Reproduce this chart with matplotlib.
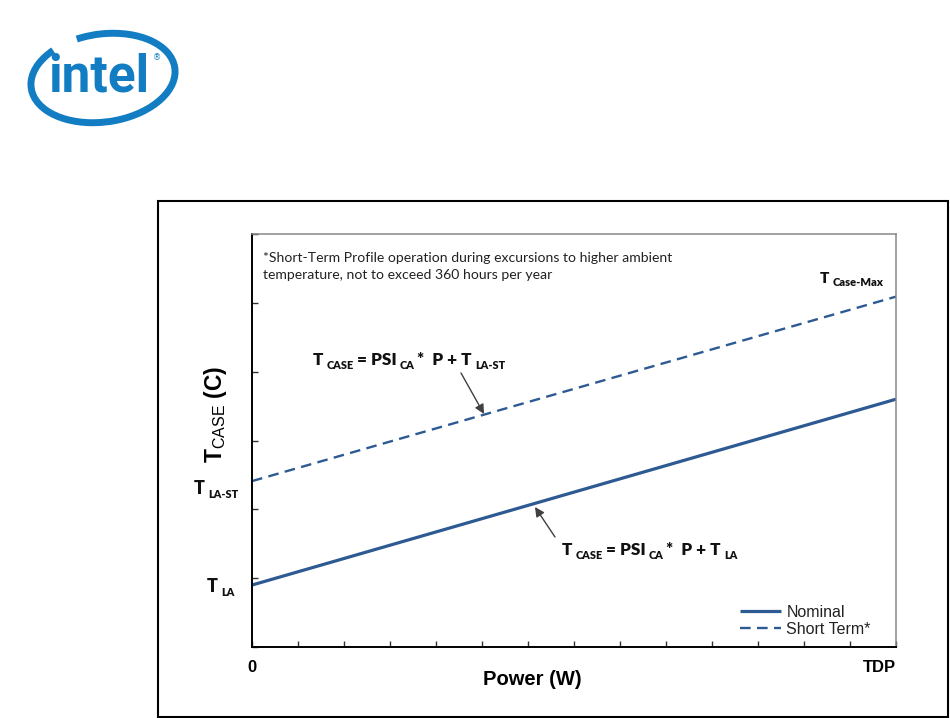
import matplotlib
matplotlib.use("Agg")
import matplotlib.pyplot as plt
from matplotlib.patches import Rectangle, Arc
from matplotlib.transforms import IdentityTransform

# ---------------- data ----------------
power_ticks = list(range(15))
x_tick_labels = ["0"] + [""] * 13 + ["TDP"]
temp_ticks = list(range(7))
power = [0, 14]
nominal = [0.90, 3.60]
short_term = [2.41, 5.09]
series_labels = ["Nominal", "Short Term*"]
note_lines = ["*Short-Term Profile operation during excursions to higher ambient",
              "temperature, not to exceed 360 hours per year"]

W, H = 950, 718
LINE_C = "#2D5A92"
BOLDF = "Lato"
ARIAL = "Liberation Sans"

plt.rcParams["mathtext.fontset"] = "custom"
plt.rcParams["mathtext.sf"] = ARIAL

fig = plt.figure(figsize=(W / 100, H / 100), dpi=100)
ax = fig.add_axes([252 / W, 1 - 647 / H, (896 - 252) / W, (647 - 234) / H])


def fpx(x, y):
    return (x / W, 1 - y / H)


# outer frame
fig.add_artist(Rectangle(fpx(158, 717), 790 / W, 516 / H, transform=fig.transFigure,
                         fill=False, lw=1.5, ec="black"))

# intel logo
logo_c = "#127DC2"
fig.add_artist(Arc((103, H - 78), 145, 88, angle=8, theta1=143, theta2=116,
                   transform=IdentityTransform(), color=logo_c, lw=5))
fig.text(*fpx(99, 92), "intel", family="Roboto", weight="bold", fontsize=37,
         color=logo_c, ha="center", va="baseline")
fig.text(*fpx(157, 60), "®", family="DejaVu Sans", fontsize=6, color=logo_c,
         ha="center", va="baseline")

# lines
ax.plot(power, nominal, color=LINE_C, lw=2.3, solid_capstyle="butt", label=series_labels[0])
ax.plot(power, short_term, color=LINE_C, lw=1.7, ls=(0, (4.5, 2.7)), label=series_labels[1])

ax.set_xlim(0, 14)
ax.set_ylim(0, 6)
ax.set_xticks(power_ticks, x_tick_labels)
ax.set_yticks(temp_ticks, [""] * len(temp_ticks))
ax.tick_params(direction="in", length=4.5, width=1, color="#333333")
ax.tick_params(axis="x", pad=9)
for lab in ax.get_xticklabels():
    lab.set_fontfamily(ARIAL)
    lab.set_fontweight("bold")
    lab.set_fontsize(12)
ax.get_xticklabels()[-1].set_horizontalalignment("right")

for s in ["left", "bottom"]:
    ax.spines[s].set_color("black")
    ax.spines[s].set_linewidth(1.4)
for s in ["top", "right"]:
    ax.spines[s].set_color("#888888")
    ax.spines[s].set_linewidth(1.1)


def px2d(x, y):
    return ((x - 252) / 46.0, (647 - y) / (413 / 6.0))


def rich(xy, parts, color="#111111", weight="heavy"):
    """parts: list of (text, size, dy_points, gap_points)"""
    s, size, _, _ = parts[0]
    prev = ax.text(*px2d(*xy), s, family=BOLDF, weight=weight, fontsize=size,
                   color=color, ha="left", va="baseline", clip_on=False)
    for s, size, dy, gap in parts[1:]:
        prev = ax.annotate(s, xy=(1, 0), xycoords=prev, xytext=(gap, dy),
                           textcoords="offset points", family=BOLDF, weight=weight,
                           fontsize=size, color=color, ha="left", va="bottom",
                           annotation_clip=False)
    return prev


SUB = 7.8
BIG = 12.3
G = 2.2
rich((313, 365), [("T", BIG, 0, 0), ("CASE", SUB, -2.3, G), ("= PSI", BIG, 2.3, G),
                  ("CA", SUB, -2.3, G), ("*  P + T", BIG, 2.3, G), ("LA-ST", SUB, -2.3, G)])
rich((562, 555), [("T", BIG, 0, 0), ("CASE", SUB, -2.3, G), ("= PSI", BIG, 2.3, G),
                  ("CA", SUB, -2.3, G), ("*  P + T", BIG, 2.3, G), ("LA", SUB, -2.3, G)])
rich((820, 283), [("T", 11, 0, 0), ("Case-Max", 8, -2, G)])
rich((207, 592), [("T", 13, 0, 0), ("LA", SUB, -2.5, G)])
rich((194, 494), [("T", 13, 0, 0), ("LA-ST", SUB, -2.5, G)])

# note
ax.text(*px2d(263, 262), note_lines[0], family="Lato", fontsize=10.1, color="#222222",
        ha="left", va="baseline")
ax.text(*px2d(263, 279), note_lines[1], family="Lato", fontsize=10.1, color="#222222",
        ha="left", va="baseline")

# arrows
arrow_kw = dict(arrowstyle="-|>", color="#404040", lw=1.0, mutation_scale=14,
                shrinkA=0, shrinkB=0)
ax.annotate("", xy=px2d(484, 414), xytext=px2d(461, 373), arrowprops=arrow_kw)
ax.annotate("", xy=px2d(535, 507), xytext=px2d(555, 537), arrowprops=arrow_kw)

# axis labels
ax.set_xlabel("Power (W)", family=ARIAL, weight="bold", fontsize=14.5)
ax.xaxis.set_label_coords((532 - 252) / 644, (647 - 670) / 413)
ax.set_ylabel(r"T$_{\mathsf{CASE}}$ (C)", family=ARIAL, weight="bold", fontsize=16.5)
ax.yaxis.set_label_coords((229 - 252) / 644, (647 - 414) / 413)

# legend
leg = ax.legend(loc="upper left", bbox_to_anchor=fpx(740, 605), bbox_transform=fig.transFigure,
                frameon=False, borderpad=0, borderaxespad=0, handlelength=2.55,
                handletextpad=0.35, labelspacing=0.1,
                prop={"family": ARIAL, "size": 11.5})
for t in leg.get_texts():
    t.set_color("#222222")

fig.savefig("out.png", dpi=100)
